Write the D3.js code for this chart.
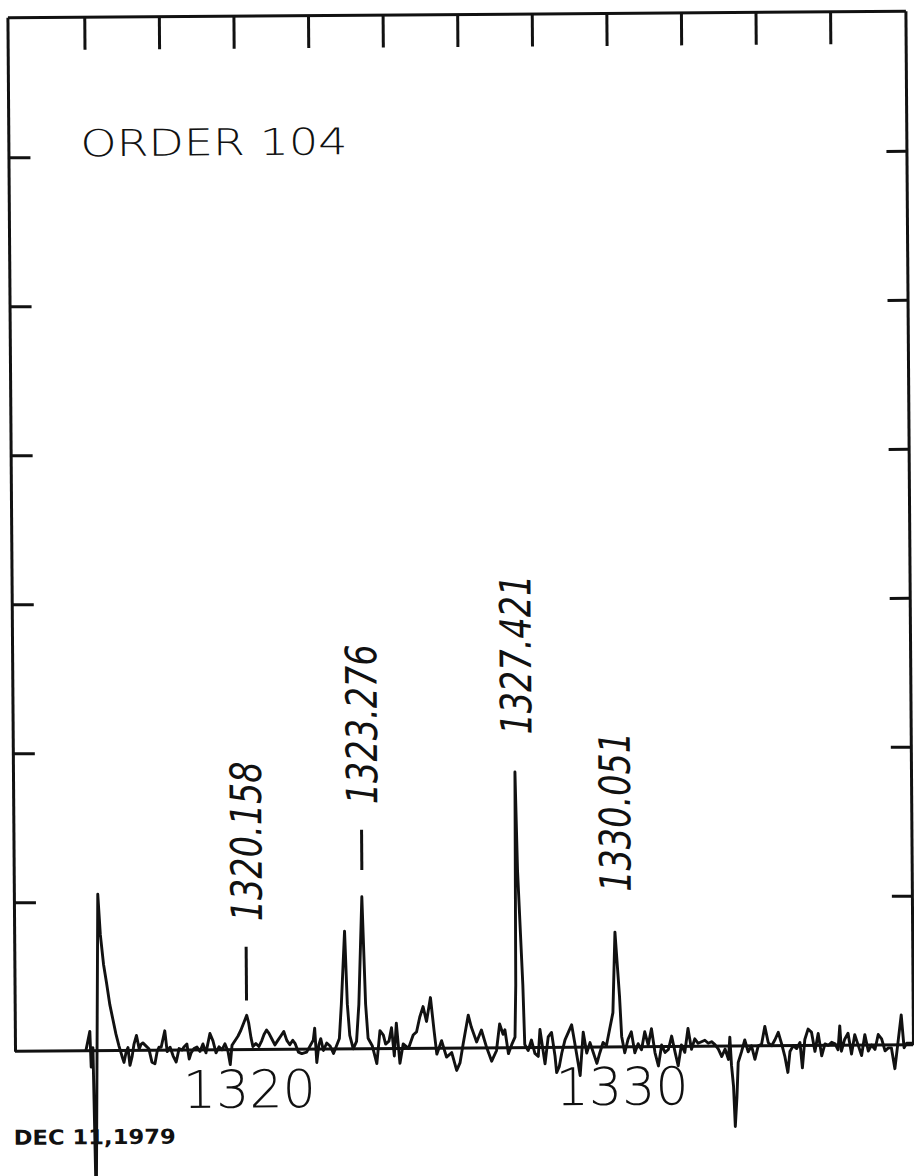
<!DOCTYPE html>
<html>
<head>
<meta charset="utf-8">
<script src="https://cdn.jsdelivr.net/npm/d3@7/dist/d3.min.js"></script>
<style>
  html, body { margin: 0; padding: 0; background: #fff; }
  svg { display: block; }
</style>
</head>
<body>
<div id="chart"></div>
<script>
// ---------- DATA ----------
const title = "ORDER 104";
const dateText = "DEC 11,1979";

const wavelengths = [
1315.84,1315.95,1315.98,1316.03,1316.09,1316.19,1316.25,1316.33,1316.41,1316.49,
1316.57,1316.65,1316.73,1316.81,1316.86,1316.92,1316.97,1317.02,1317.08,1317.13,
1317.20,1317.27,1317.32,1317.37,1317.45,1317.53,1317.61,1317.69,1317.75,1317.80,
1317.86,1317.96,1318.02,1318.10,1318.18,1318.26,1318.34,1318.42,1318.47,1318.55,
1318.61,1318.66,1318.74,1318.82,1318.90,1318.98,1319.06,1319.17,1319.25,1319.33,
1319.41,1319.49,1319.57,1319.65,1319.71,1319.76,1319.84,1319.92,1320.00,1320.08,
1320.16,1320.21,1320.27,1320.32,1320.40,1320.48,1320.56,1320.62,1320.69,1320.75,
1320.83,1320.91,1320.99,1321.07,1321.15,1321.23,1321.31,1321.39,1321.45,1321.54,
1321.63,1321.76,1321.85,1321.94,1321.98,1322.03,1322.09,1322.14,1322.21,1322.30,
1322.39,1322.48,1322.56,1322.64,1322.70,1322.80,1322.86,1322.92,1323.01,1323.10,
1323.17,1323.27,1323.35,1323.41,1323.52,1323.64,1323.73,1323.82,1323.88,1323.97,
1324.04,1324.11,1324.17,1324.26,1324.35,1324.49,1324.62,1324.71,1324.80,1324.89,
1324.98,1325.09,1325.18,1325.25,1325.38,1325.51,1325.65,1325.78,1325.87,1325.96,
1326.10,1326.18,1326.32,1326.45,1326.59,1326.72,1326.85,1326.94,1327.03,1327.08,
1327.17,1327.26,1327.35,1327.38,1327.40,1327.45,1327.57,1327.61,1327.70,1327.79,
1327.88,1327.97,1328.02,1328.11,1328.15,1328.24,1328.33,1328.42,1328.46,1328.53,
1328.60,1328.69,1328.78,1328.87,1328.95,1329.04,1329.09,1329.18,1329.27,1329.36,
1329.45,1329.54,1329.62,1329.71,1329.80,1329.89,1329.98,1330.05,1330.16,1330.21,
1330.29,1330.38,1330.47,1330.56,1330.65,1330.74,1330.83,1330.92,1331.01,1331.10,
1331.19,1331.28,1331.37,1331.46,1331.55,1331.64,1331.72,1331.81,1331.90,1331.99,
1332.08,1332.17,1332.26,1332.35,1332.44,1332.53,1332.62,1332.71,1332.80,1332.89,
1332.98,1333.07,1333.11,1333.15,1333.20,1333.24,1333.29,1333.33,1333.42,1333.51,
1333.60,1333.69,1333.78,1333.87,1333.96,1334.05,1334.14,1334.23,1334.32,1334.41,
1334.50,1334.58,1334.66,1334.72,1334.81,1334.90,1334.99,1335.05,1335.12,1335.21,
1335.30,1335.39,1335.48,1335.57,1335.66,1335.75,1335.84,1335.93,1336.01,1336.06,
1336.10,1336.19,1336.28,1336.37,1336.46,1336.55,1336.64,1336.73,1336.82,1336.91,
1337.00,1337.09,1337.18,1337.27,1337.36,1337.44,1337.53,1337.62,1337.71,1337.78,
1337.85,1338.00
];

const intensities = [
0.00,0.13,-0.11,0.02,-1.05,1.05,0.78,0.58,0.45,0.31,
0.21,0.11,0.03,-0.04,-0.08,-0.01,0.02,-0.10,-0.04,0.04,
0.10,0.01,0.04,0.05,0.03,0.01,-0.08,-0.09,-0.01,0.02,
0.02,0.13,-0.01,0.02,-0.04,-0.08,0.01,0.00,0.02,0.04,
-0.06,-0.02,0.01,0.02,-0.01,0.04,-0.02,0.11,0.06,-0.02,
0.02,0.00,0.04,-0.01,-0.10,0.03,0.06,0.09,0.13,0.18,
0.23,0.18,0.08,0.02,0.04,0.02,0.06,0.10,0.13,0.11,
0.07,0.03,0.06,0.09,0.12,0.06,0.03,0.06,0.04,-0.02,
-0.03,-0.02,0.02,0.06,0.14,-0.09,0.03,0.07,-0.01,0.04,
0.02,-0.03,0.02,0.07,0.30,0.79,0.30,0.09,0.00,0.05,
0.30,1.02,0.30,0.07,0.02,-0.10,0.12,0.09,0.03,0.05,
0.14,-0.05,0.17,-0.10,0.03,0.00,0.09,0.11,0.21,0.28,
0.18,0.34,0.12,-0.04,0.05,-0.06,-0.03,-0.15,-0.10,0.03,
0.22,0.14,0.04,0.12,0.00,-0.09,-0.02,0.16,0.09,0.12,
-0.04,0.02,0.07,0.42,1.85,1.19,0.42,0.02,-0.02,0.05,
-0.04,-0.06,0.12,-0.04,-0.11,0.07,0.10,-0.06,-0.17,-0.13,
-0.04,0.05,0.10,0.15,0.03,-0.11,-0.19,0.10,-0.04,0.03,
-0.04,-0.11,-0.04,0.03,0.01,0.12,0.23,0.77,0.34,0.07,
-0.04,0.05,0.10,-0.04,0.02,-0.02,0.10,0.01,0.12,-0.04,
-0.13,0.01,-0.04,-0.02,0.07,-0.04,-0.13,0.01,-0.04,0.12,
-0.02,0.05,0.02,0.03,0.04,0.02,0.03,0.01,-0.02,-0.07,
-0.02,-0.09,0.06,-0.13,-0.27,-0.54,-0.34,-0.11,-0.04,0.04,
-0.04,0.00,-0.09,0.00,0.01,0.13,0.02,0.00,0.04,0.09,
0.01,-0.07,-0.18,-0.04,0.00,-0.02,0.02,-0.15,0.04,0.11,
0.09,-0.04,0.08,-0.07,0.01,0.00,0.02,0.01,-0.03,0.13,
-0.04,0.04,0.08,-0.06,0.07,0.00,-0.07,0.07,-0.04,0.00,
-0.03,0.07,0.04,-0.04,-0.02,-0.02,-0.16,0.02,0.20,-0.02,
0.01,0.01
];

const topTicks = [1316,1318,1320,1322,1324,1326,1328,1330,1332,1334,1336];
const yTicks = [1,2,3,4,5,6];
const xLabels = [1320, 1330];

const lineWavelengths = [1320.158, 1323.276, 1327.421, 1330.051];
const lineLabels = ["1320.158", "1323.276", "1327.421", "1330.051"];
const lineLabelStart = [0.86, 1.64, 2.10, 1.04];   // intensity where label begins
const markerLines = [
  { wl: 1320.158, from: 0.33, to: 0.69 },
  { wl: 1323.276, from: 1.20, to: 1.47 }
];

// ---------- LAYOUT ----------
const W = 914, H = 1176;
const frame = { left: 15, right: 913, top: 14, zero: 1048 };

const x = d3.scaleLinear().domain([1313.94, 1338.02]).range([frame.left, frame.right]);
const y = d3.scaleLinear().domain([0, 6.94]).range([frame.zero, frame.top]);

const svg = d3.select("#chart").append("svg")
  .attr("width", W).attr("height", H)
  .attr("viewBox", `0 0 ${W} ${H}`);

svg.append("rect").attr("width", W).attr("height", H).attr("fill", "#fff");

const g = svg.append("g")
  .attr("transform", `rotate(-0.42, 463, ${frame.zero})`);

const ink = "#111";

// top frame with downward ticks
const topAxis = d3.axisBottom(x).tickValues(topTicks).tickSize(33).tickSizeOuter(0).tickFormat("");
g.append("g").attr("transform", `translate(0,${frame.top})`).call(topAxis);

// left frame with inward ticks
const leftAxis = d3.axisRight(y).tickValues(yTicks).tickSize(22).tickSizeOuter(0).tickFormat("");
g.append("g").attr("transform", `translate(${frame.left},0)`).call(leftAxis);

// right frame with inward ticks
const rightAxis = d3.axisLeft(y).tickValues(yTicks).tickSize(20).tickSizeOuter(0).tickFormat("");
g.append("g").attr("transform", `translate(${frame.right},0)`).call(rightAxis);

g.selectAll(".domain, .tick line").attr("stroke", ink).attr("stroke-width", 3);

// zero line
g.append("line")
  .attr("x1", frame.left).attr("x2", frame.right)
  .attr("y1", y(0)).attr("y2", y(0))
  .attr("stroke", ink).attr("stroke-width", 3);

// spectrum trace
const pts = wavelengths.map((w, i) => [w, intensities[i]]);
const line = d3.line().x(d => x(d[0])).y(d => y(d[1]));
g.append("path")
  .datum(pts)
  .attr("d", line)
  .attr("fill", "none")
  .attr("stroke", ink)
  .attr("stroke-width", 2.9)
  .attr("stroke-linejoin", "round");

// marker ticks above identified lines
g.selectAll(".marker").data(markerLines).enter().append("line")
  .attr("x1", d => x(d.wl)).attr("x2", d => x(d.wl))
  .attr("y1", d => y(d.from)).attr("y2", d => y(d.to))
  .attr("stroke", ink).attr("stroke-width", 3);

// rotated line labels
g.selectAll(".lbl").data(lineWavelengths).enter().append("text")
  .attr("transform", (d, i) => `translate(${x(d) + 16},${y(lineLabelStart[i])}) rotate(-90)`)
  .attr("font-family", "DejaVu Sans, sans-serif")
  .attr("font-style", "italic")
  .attr("font-size", 43)
  .attr("textLength", 160)
  .attr("lengthAdjust", "spacingAndGlyphs")
  .attr("fill", ink)
  .text((d, i) => lineLabels[i]);

// x labels
g.selectAll(".xl").data(xLabels).enter().append("text")
  .attr("x", d => x(d) + 8)
  .attr("y", 1106)
  .attr("text-anchor", "middle")
  .attr("font-family", "DejaVu Sans, sans-serif")
  .attr("font-weight", 200)
  .attr("font-size", 52)
  .attr("textLength", 133)
  .attr("lengthAdjust", "spacingAndGlyphs")
  .attr("fill", ink)
  .text(d => d);

// title
g.append("text")
  .attr("x", 87).attr("y", 153.5)
  .attr("font-family", "DejaVu Sans, sans-serif")
  .attr("font-weight", 200)
  .attr("font-size", 37)
  .attr("textLength", 267)
  .attr("lengthAdjust", "spacingAndGlyphs")
  .attr("fill", ink)
  .text(title);

// date
g.append("text")
  .attr("x", 13).attr("y", 1141.5)
  .attr("font-family", "DejaVu Sans, sans-serif")
  .attr("font-weight", "bold")
  .attr("font-size", 20.5)
  .attr("textLength", 162)
  .attr("lengthAdjust", "spacingAndGlyphs")
  .attr("fill", ink)
  .text(dateText);
</script>
</body>
</html>
